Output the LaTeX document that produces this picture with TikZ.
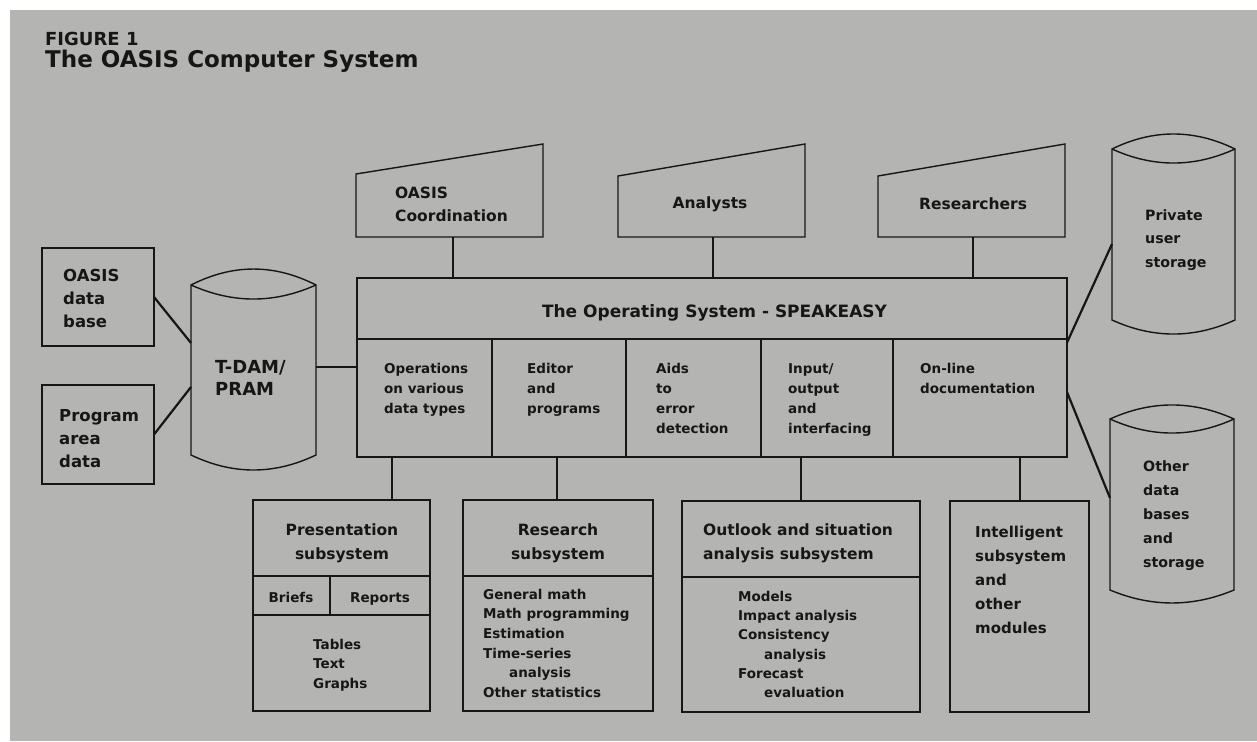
\documentclass[tikz,border=0pt]{standalone}
\usepackage{fontspec}
\setmainfont{DejaVu Sans}
\usetikzlibrary{calc}
\definecolor{bg}{RGB}{180,180,178}
\definecolor{ink}{RGB}{22,22,22}
\newcommand\myfs[2]{\fontsize{#1}{#2}\selectfont\bfseries}
\begin{document}
\begin{tikzpicture}[x=1pt,y=-1pt,
  box/.style={draw=ink, line width=1.4pt, anchor=north west, inner sep=0pt, outer sep=0pt},
  outline/.style={draw=ink, line width=1.4pt, line join=miter},
  link/.style={draw=ink, line width=2.2pt},
  txt/.style={inner sep=0pt, text=ink, align=left, anchor=north west}]
\fill[white] (0,0) rectangle (1257,741);
\fill[bg] (10,10) rectangle (1257,741);
\useasboundingbox (0,0) rectangle (1257,741);

% titles
\node[txt, anchor=base west, font=\myfs{18}{22}] (fig) at (45,46) {FIGURE 1};
\node[txt, anchor=base west, font=\myfs{23}{28}] (title) at (45,68) {The OASIS Computer System};

% left boxes
\node[box, minimum width=112pt, minimum height=98pt] (odb) at (42,248) {};
\node[box, minimum width=112pt, minimum height=99pt] (pad) at (42,385) {};
\node[txt, font=\myfs{16.5}{23}] (odbT) at (63,268.5) {\vphantom{h}OASIS\\data\\base};
\node[txt, font=\myfs{16.5}{23}] (padT) at (59,408.5) {\vphantom{h}Program\\area\\data};

% T-DAM cylinder
\draw[outline] (191,285) .. controls (233,263.7) and (274,263.7) .. (316,285)
  -- (316,455) .. controls (274,475) and (233,475) .. (191,455) -- cycle;
\draw[outline] (191,285) .. controls (233,303.7) and (274,303.7) .. (316,285);
\coordinate (tdamL1) at (191,343);
\coordinate (tdamL2) at (191,387);
\coordinate (tdamR) at (316,367);
\node[txt, font=\myfs{18}{22}] (tdamT) at (215,359.3) {\vphantom{h}T-DAM/\\PRAM};

% top trapezoids
\draw[outline] (356,174) -- (543,144) -- (543,237) -- (356,237) -- cycle;
\draw[outline] (618,176) -- (805,144) -- (805,237) -- (618,237) -- cycle;
\draw[outline] (878,176) -- (1065,144) -- (1065,237) -- (878,237) -- cycle;
\coordinate (ocB) at (453,237);
\coordinate (anB) at (713,237);
\coordinate (reB) at (973,237);
\node[txt, font=\myfs{15.5}{23}] (ocT) at (395,186.2) {\vphantom{h}OASIS\\Coordination};
\node[txt, anchor=base, font=\myfs{15.5}{23}] (anT) at (710,208) {Analysts};
\node[txt, anchor=base west, font=\myfs{15.5}{23}] (reT) at (919,209) {Researchers};

% operating system
\node[box, minimum width=710pt, minimum height=61pt] (os) at (357,278) {};
\node[box, minimum width=135pt, minimum height=118pt] (c1) at (357,339) {};
\node[box, minimum width=134pt, minimum height=118pt] (c2) at (492,339) {};
\node[box, minimum width=135pt, minimum height=118pt] (c3) at (626,339) {};
\node[box, minimum width=132pt, minimum height=118pt] (c4) at (761,339) {};
\node[box, minimum width=174pt, minimum height=118pt] (c5) at (893,339) {};
\node[txt, anchor=base, font=\myfs{17}{22}] (osT) at (714.5,317) {The Operating System - SPEAKEASY};
\node[txt, font=\myfs{13.5}{20}] (c1T) at (384,362.7) {\vphantom{h}Operations\\on various\\data types};
\node[txt, font=\myfs{13.5}{20}] (c2T) at (527,362.7) {\vphantom{h}Editor\\and\\programs};
\node[txt, font=\myfs{13.5}{20}] (c3T) at (656,362.7) {\vphantom{h}Aids\\to\\error\\detection};
\node[txt, font=\myfs{13.5}{20}] (c4T) at (788,362.7) {\vphantom{h}Input/\\output\\and\\interfacing};
\node[txt, font=\myfs{13.5}{20}] (c5T) at (920,362.7) {\vphantom{h}On-line\\documentation};

% bottom subsystems
\node[box, minimum width=177pt, minimum height=76pt] (presH) at (253,500) {};
\node[box, minimum width=77pt, minimum height=39pt] (briefs) at (253,576) {};
\node[box, minimum width=100pt, minimum height=39pt] (reports) at (330,576) {};
\node[box, minimum width=177pt, minimum height=96pt] (presL) at (253,615) {};
\node[box, minimum width=190pt, minimum height=76pt] (resH) at (463,500) {};
\node[box, minimum width=190pt, minimum height=135pt] (resL) at (463,576) {};
\node[box, minimum width=238pt, minimum height=76pt] (outH) at (682,501) {};
\node[box, minimum width=238pt, minimum height=135pt] (outL) at (682,577) {};
\node[box, minimum width=139pt, minimum height=211pt] (intel) at (950,501) {};

\node[txt, anchor=north, align=center, font=\myfs{15.5}{24}] (presT) at (342,523.2) {\vphantom{h}Presentation\\subsystem};
\node[txt, anchor=base, font=\myfs{13.5}{20}] (briefsT) at (291,602) {Briefs};
\node[txt, anchor=base, font=\myfs{13.5}{20}] (reportsT) at (380,602) {Reports};
\node[txt, font=\myfs{13.5}{19.5}] (tablesT) at (313,638.7) {\vphantom{h}Tables\\Text\\Graphs};
\node[txt, anchor=north, align=center, font=\myfs{15.5}{24}] (resT) at (558,523.2) {\vphantom{h}Research\\subsystem};
\node[txt, font=\myfs{13.5}{19.7}] (resLT) at (483,588.7) {\vphantom{h}General math\\Math programming\\Estimation\\Time-series\\\hspace*{26pt}analysis\\Other statistics};
\node[txt, font=\myfs{15.5}{24}] (outT) at (703,523.2) {\vphantom{h}Outlook and situation\\analysis subsystem};
\node[txt, font=\myfs{13.5}{19.3}] (outLT) at (738,590.7) {\vphantom{h}Models\\Impact analysis\\Consistency\\\hspace*{26pt}analysis\\Forecast\\\hspace*{26pt}evaluation};
\node[txt, font=\myfs{15}{24}] (intT) at (975,525.6) {\vphantom{h}Intelligent\\subsystem\\and\\other\\modules};

% right cylinders
\draw[outline] (1112,149) .. controls (1153,129) and (1194,129) .. (1235,149)
  -- (1235,320) .. controls (1194,338.7) and (1153,338.7) .. (1112,320) -- cycle;
\draw[outline] (1112,149) .. controls (1153,167.7) and (1194,167.7) .. (1235,149);
\draw[outline] (1110,419) .. controls (1151.3,400.3) and (1192.7,400.3) .. (1234,419)
  -- (1234,590) .. controls (1192.7,607.3) and (1151.3,607.3) .. (1110,590) -- cycle;
\draw[outline] (1110,419) .. controls (1151.3,437.7) and (1192.7,437.7) .. (1234,419);
\coordinate (privL) at (1112,244);
\coordinate (othL) at (1110,498);
\node[txt, font=\myfs{14.2}{23.5}] (privT) at (1145,209.2) {\vphantom{h}Private\\user\\storage};
\node[txt, font=\myfs{14.2}{24}] (othT) at (1143,460.2) {\vphantom{h}Other\\data\\bases\\and\\storage};

% connectors
\draw[link] (odb.east) -- (tdamL1);
\draw[link] (pad.east) -- (tdamL2);
\draw[link] (tdamR) -- (tdamR -| c1.west);
\draw[link] (ocB) -- (ocB |- os.north);
\draw[link] (anB) -- (anB |- os.north);
\draw[link] (reB) -- (reB |- os.north);
\path (c1.south west) ++(35,0) coordinate (d1);
\path (c2.south west) ++(65,0) coordinate (d2);
\path (c4.south west) ++(40,0) coordinate (d3);
\path (c5.south west) ++(127,0) coordinate (d4);
\draw[link] (d1) -- (d1 |- presH.north);
\draw[link] (d2) -- (d2 |- resH.north);
\draw[link] (d3) -- (d3 |- outH.north);
\draw[link] (d4) -- (d4 |- intel.north);
\draw[link] ($(c5.north east)!0.03!(c5.south east)$) -- (privL);
\draw[link] ($(c5.north east)!0.45!(c5.south east)$) -- (othL);
\end{tikzpicture}
\end{document}
